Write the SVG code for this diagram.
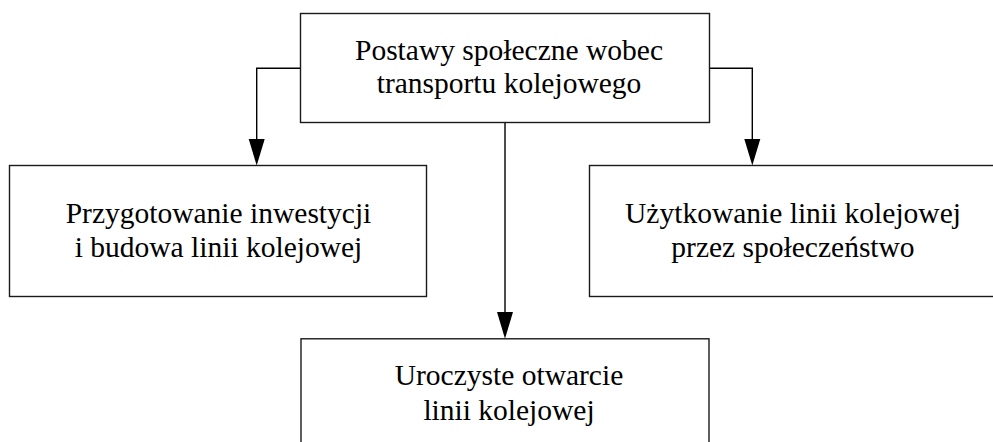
<svg xmlns="http://www.w3.org/2000/svg" width="993" height="442" viewBox="0 0 993 442">
<style>
.box{fill:#fff;stroke:#1a1a1a;stroke-width:1.4}
.t{font-family:"Liberation Serif","Times New Roman",serif;font-size:29.5px;fill:#000;text-anchor:middle}
.c{fill:none;stroke:#000;stroke-width:1.4}
.ah{fill:#000;stroke:none}
</style>
<rect width="993" height="442" fill="#fff"/>
<g id="connectors">
<polyline class="c" points="300.5,68.3 256.7,68.3 256.7,140"/>
<polygon class="ah" points="248.7,139 264.7,139 256.7,165.5"/>
<polyline class="c" points="709.5,68.3 752.3,68.3 752.3,140"/>
<polygon class="ah" points="744.3,139 760.3,139 752.3,165.5"/>
<line class="c" x1="505" y1="122.5" x2="505" y2="313"/>
<polygon class="ah" points="497,312 513,312 505,338.8"/>
</g>
<g id="top">
<rect class="box" x="300.5" y="13.5" width="409" height="109"/>
<text class="t" x="509" y="59.5">Postawy społeczne wobec</text>
<text class="t" x="509" y="93">transportu kolejowego</text>
</g>
<g id="left">
<rect class="box" x="9.5" y="165.5" width="417" height="131"/>
<text class="t" x="218.5" y="223">Przygotowanie inwestycji</text>
<text class="t" x="218.5" y="257">i budowa linii kolejowej</text>
</g>
<g id="right">
<rect class="box" x="589.5" y="165.5" width="410" height="131"/>
<text class="t" x="793" y="223">Użytkowanie linii kolejowej</text>
<text class="t" x="793" y="257">przez społeczeństwo</text>
</g>
<g id="bottom">
<rect class="box" x="301" y="338.8" width="408" height="110"/>
<text class="t" x="509" y="385">Uroczyste otwarcie</text>
<text class="t" x="509" y="420">linii kolejowej</text>
</g>
</svg>
